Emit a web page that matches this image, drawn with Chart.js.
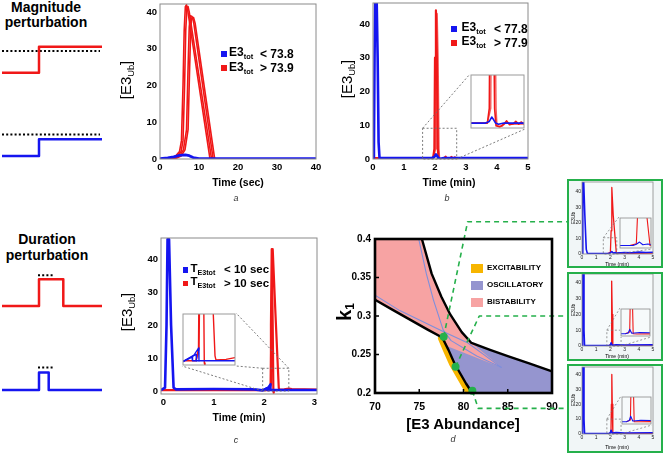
<!DOCTYPE html>
<html><head><meta charset="utf-8">
<script src="https://cdn.jsdelivr.net/npm/chart.js@4"></script>
<style>
body{margin:0;width:664px;height:453px;position:relative;background:#fff;overflow:hidden;font-family:"Liberation Sans",Arial,sans-serif;}
canvas{position:absolute;}
.t{position:absolute;white-space:nowrap;color:#000;line-height:1;z-index:10;}
.c{transform:translate(-50%,-50%);}
.r{transform:translate(-50%,-50%) rotate(-90deg);}
.lv{transform:translateY(-50%);}
.sub{font-size:0.62em;vertical-align:-0.35em;}
.sw{position:absolute;z-index:10;}
</style></head><body>
<script>
const F='"Liberation Sans", Arial, sans-serif';
Chart.defaults.font.family=F;

// ---------------- DATA ----------------
// schematic inputs (time units 0..10, level 0..1)
const magRedStep=[[0,0.18],[3.7,0.18],[3.7,0.83],[10,0.83]];
const magRedThr=[[0,0.725],[9.8,0.725]];
const magBlueStep=[[0,0.2],[3.7,0.2],[3.7,0.62],[10,0.62]];
const magBlueThr=[[0,0.74],[9.8,0.74]];
const durRedPulse=[[0,0.1],[3.7,0.1],[3.7,0.77],[6.13,0.77],[6.13,0.1],[10,0.1]];
const durRedDots=[[3.6,0.87],[5.2,0.87]];
const durBluePulse=[[0,0.15],[3.7,0.15],[3.7,0.59],[4.67,0.59],[4.67,0.15],[10,0.15]];
const durBlueDots=[[3.6,0.71],[5.2,0.71]];

// panel a (time in sec)
const aTicksX=[0,10,20,30,40], aTicksY=[0,10,20,30,40];
const aBlue=[[0,0.1],[2,0.3],[3.5,0.6],[5,1.0],[6.5,1.1],[7.5,0.9],[8.5,0.4],[10,0.1],[40,0.1]];
const aRed1=[[0,0],[3,0.3],[4,0.8],[5,2],[5.5,5],[5.9,20],[6.2,35],[6.5,41.5],[6.8,42],[7.1,40.5],[12.8,0.2],[13.1,0],[40,0]];
const aRed2=[[0,0],[3.4,0.3],[4.4,0.8],[5.4,2],[5.9,5],[6.3,20],[6.6,35],[6.9,41.2],[7.2,41.5],[7.5,40],[13.2,0.2],[13.5,0],[40,0]];
const aRed3=[[0,0],[4,0.3],[5,0.8],[6,2.5],[6.8,8],[7.2,25],[7.5,36],[7.8,39],[8.2,38.8],[8.6,37.5],[13.6,0.2],[13.9,0],[40,0]];
const aRed4=[[0,0],[4.4,0.3],[5.4,0.8],[6.4,2.5],[7.2,8],[7.6,25],[7.9,36],[8.2,38.6],[8.6,38.5],[9.0,37],[14.0,0.2],[14.3,0],[40,0]];

// panel b (time in min)
const bTicksX=[0,1,2,3,4,5], bTicksY=[0,10,20,30,40];
const bBlue=[[0,0.3],[0.03,3],[0.05,30],[0.07,46],[0.12,46],[0.15,30],[0.18,5],[0.21,0.3],[1.9,0.3],[1.98,0.6],[2.03,1.4],[2.07,0.9],[2.11,0.3],[2.17,0.1],[2.28,0.3],[5,0.3]];
const bRed1=[[0,0.3],[1.94,0.3],[1.98,3],[2.0,30],[2.03,44],[2.06,30],[2.09,3],[2.12,-0.2],[2.2,-0.4],[2.28,0.1],[2.34,0.7],[2.4,0.0],[2.48,0.2],[2.53,0.6],[2.59,0.1],[2.64,0.5],[2.69,0.2],[5,0.3]];
const bRed2=[[1.94,0.3],[2.01,3],[2.03,30],[2.06,43],[2.09,30],[2.12,3],[2.14,-0.2],[2.24,-0.3],[2.33,0.4],[2.43,0.1],[5,0.3]];

// panel c (time in min)
const cTicksX=[0,1,2,3], cTicksY=[0,10,20,30,40];
const cBlue1=[[-0.05,0.3],[0.03,1],[0.06,20],[0.08,46],[0.11,46],[0.15,20],[0.2,1],[0.25,0.5],[1.0,0.6],[1.8,0.5],[1.97,0.2],[2.03,0.6],[2.06,0.84],[2.065,0.3],[2.3,0.3],[3.05,0.3]];
const cBlue2=[[1.97,0.2],[2.05,0.8],[2.1,1.2],[2.105,0.3]];
const cBlue3=[[1.97,0.2],[2.08,1.1],[2.125,2.1],[2.13,0.3]];
const cRed1=[[-0.05,0.3],[2.1,0.3],[2.125,2],[2.135,20],[2.15,43],[2.17,20],[2.183,0],[2.19,-0.5]];
const cRed2=[[2.1,0.3],[2.13,2],[2.145,20],[2.17,43],[2.22,25],[2.29,1],[2.3,0.4],[2.4,0.5],[2.49,0.75],[2.55,0.6],[3.05,0.4]];

// panel d (E3 abundance vs k1)
const dTicksX=[70,75,80,85,90], dTicksY=[0.2,0.25,0.3,0.35,0.4];
const dYLabels=['0.2','0.25','0.3','0.35','0.4'];
const dBistable=[[70,0.4],[75.3,0.4],[76.4,0.355],[77.5,0.325],[78.5,0.302],[79.8,0.279],[80.9,0.265],[84.3,0.233],[78.1,0.261],[77.6,0.271],[70,0.321]];
const dOscill=[[77.6,0.272],[80.9,0.265],[83,0.256],[85,0.248],[87.5,0.238],[90,0.228],[90,0.2],[81.0,0.2],[80.3,0.212],[79.6,0.226],[79.0,0.238],[78.3,0.256],[77.6,0.272]];
const dUpper=[[75.3,0.4],[76.4,0.355],[77.5,0.325],[78.5,0.302],[79.8,0.279],[80.9,0.265],[83,0.256],[85,0.248],[87.5,0.238],[90,0.228]];
const dLower=[[70,0.321],[72,0.308],[74,0.295],[76,0.282],[77.6,0.272],[78.3,0.256],[79.0,0.238],[79.6,0.226],[80.3,0.212],[81.0,0.2]];
const dExcite=[[77.45,0.271],[78.0,0.256],[78.7,0.238],[79.3,0.226],[80.0,0.212],[80.6,0.2]];
const dBlueA=[[74.94,0.4],[75.8,0.355],[76.6,0.321],[77.7,0.282],[78.6,0.268],[81.5,0.248],[84.3,0.233]];
const dBlueB=[[70,0.327],[72.8,0.307],[77.7,0.28],[80.5,0.265],[84.3,0.233]];
const dPoints=[[77.76,0.273],[79.1,0.234],[81.0,0.203]];
const dLink1=[[77.76,0.273],[80.47,0.4225],[91.7,0.4225]];
const dLink2=[[79.1,0.234],[81.78,0.3],[91.7,0.3]];
const dLink3=[[81.0,0.203],[81.67,0.18],[91.7,0.18]];

// inset boxes on the right (time in min)
const mTicksX=[0,1,2,3,4,5], mTicksY=[0,10,20,30,40];
const m1Blue=[[0,0.3],[0.04,8],[0.07,46.5],[0.12,46.5],[0.2,25],[0.3,3],[0.38,0.3],[1.9,0.3],[2.0,0.8],[2.1,1.6],[2.2,0.6],[2.35,0.9],[2.5,0.6],[3.0,1.0],[3.5,0.8],[4.0,1.2],[4.5,1.0],[5,1.1]];
const m1Red=[[1.8,0.3],[2.0,1],[2.05,15],[2.1,43],[2.2,25],[2.42,0.3],[2.6,0.7],[3.3,0.4],[5,0.6]];
const m2Blue=[[0,0.3],[0.03,10],[0.05,45.5],[0.1,45.5],[0.14,10],[0.18,0.3],[1.9,0.3],[2.0,0.6],[2.05,2],[2.12,0.5],[2.4,0.8],[3,0.6],[5,0.7]];
const m2Red=[[1.9,0.3],[2.05,1],[2.08,20],[2.1,41],[2.13,20],[2.17,0.3],[2.3,0.2],[5,0.4]];
const m3Blue=[[0,0.3],[0.03,10],[0.05,45],[0.1,45],[0.14,10],[0.18,0.3],[1.9,0.3],[2.0,0.8],[2.05,2.5],[2.12,0.6],[2.4,0.9],[3,0.7],[5,0.8]];
const m3Red=[[1.9,0.3],[2.04,1],[2.07,20],[2.1,40],[2.13,20],[2.17,0.3],[2.4,0.3],[5,0.4]];

// ---------------- colours ----------------
const BLUE='#1515f0', RED='#f01818', GRN='#25b04b';

// ---------------- plugins ----------------
Chart.register({id:'boxbg',
  beforeDraw(ch,a,o){const ctx=ch.ctx;ctx.save();
    if(o.bg){ctx.fillStyle=o.bg;ctx.fillRect(0,0,ch.width,ch.height);}
    if(o.plotBg){const A=ch.chartArea;ctx.fillStyle=o.plotBg;ctx.fillRect(A.left,A.top,A.right-A.left,A.bottom-A.top);}
    ctx.restore();},
  afterDraw(ch,a,o){if(!o.border)return;const ctx=ch.ctx,w=o.bw||2;ctx.save();ctx.strokeStyle=o.border;ctx.lineWidth=w;
    ctx.strokeRect(w/2,w/2,ch.width-w,ch.height-w);ctx.restore();}
});
Chart.register({id:'frame',
  afterDatasetsDraw(ch,a,o){if(!o.color)return;const A=ch.chartArea,ctx=ch.ctx;ctx.save();
    ctx.strokeStyle=o.color;ctx.lineWidth=o.width||1;
    if(o.ticks){ctx.beginPath();
      ch.scales.x.ticks.forEach(t=>{const p=ch.scales.x.getPixelForValue(t.value);ctx.moveTo(p,A.bottom);ctx.lineTo(p,A.bottom-o.ticks);});
      ch.scales.y.ticks.forEach(t=>{const p=ch.scales.y.getPixelForValue(t.value);ctx.moveTo(A.left,p);ctx.lineTo(A.left+o.ticks,p);});
      ctx.lineWidth=1.5;ctx.stroke();ctx.lineWidth=o.width||1;}
    ctx.strokeRect(A.left,A.top,A.right-A.left,A.bottom-A.top);ctx.restore();}
});
Chart.register({id:'zoomlink',
  afterDatasetsDraw(ch,a,o){if(!o.win)return;const xs=ch.scales.x,ys=ch.scales.y,ctx=ch.ctx;
    const x0=xs.getPixelForValue(o.win[0]),x1=xs.getPixelForValue(o.win[1]),yb=ys.getPixelForValue(o.win[2]),yt=ys.getPixelForValue(o.win[3]);
    const cl=parseFloat(ch.canvas.style.left),ct=parseFloat(ch.canvas.style.top);
    const b=o.box, R={TL:[x0,yt],TR:[x1,yt],BL:[x0,yb],BR:[x1,yb]},
      B={TL:[b[0]-cl,b[1]-ct],TR:[b[2]-cl,b[1]-ct],BL:[b[0]-cl,b[3]-ct],BR:[b[2]-cl,b[3]-ct]};
    ctx.save();ctx.strokeStyle=o.color||'#6e6e6e';ctx.lineWidth=o.width||0.9;ctx.setLineDash(o.dash||[2,2]);
    ctx.strokeRect(x0,yt,x1-x0,yb-yt);
    ctx.beginPath();o.links.forEach(([r,q])=>{ctx.moveTo(R[r][0],R[r][1]);ctx.lineTo(B[q][0],B[q][1]);});ctx.stroke();ctx.restore();}
});

// ---------------- helpers ----------------
const P=a=>a.map(p=>({x:p[0],y:p[1]}));
function ds(arr,color,w,extra){return Object.assign({data:P(arr),borderColor:color,backgroundColor:color,borderWidth:w,pointRadius:0,tension:0,fill:false,borderJoinStyle:'round'},extra||{});}
function axis(o){return {type:'linear',display:o.display!==false,min:o.min,max:o.max,
  grid:{display:false,drawTicks:false},border:{display:false},
  ticks:{color:o.tc||'#000',font:{size:o.size||9.5,weight:o.weight||'bold'},padding:o.pad==null?3:o.pad,maxRotation:0,autoSkip:false,
    callback:(v,i)=>o.labels?o.labels[i]:String(v)},
  afterBuildTicks:s=>{if(o.ticks)s.ticks=o.ticks.map(v=>({value:v}));},
  afterFit:s=>{if(o.fit!=null){if(s.isHorizontal())s.height=o.fit;else s.width=o.fit;}
    s.paddingLeft=s.paddingRight=s.paddingTop=s.paddingBottom=0;}};}
function chart(l,t,w,h,cfg){const c=document.createElement('canvas');c.width=w;c.height=h;
  Object.assign(c.style,{left:l+'px',top:t+'px',width:w+'px',height:h+'px'});document.body.appendChild(c);
  return new Chart(c,{type:'line',data:{datasets:cfg.datasets},options:{responsive:false,animation:false,events:[],
    layout:{padding:cfg.pad||0},scales:{x:axis(cfg.x),y:axis(cfg.y)},
    plugins:{legend:{display:false},tooltip:{enabled:false},frame:cfg.frame||{},zoomlink:cfg.zoom||{},boxbg:cfg.box||{}}}});}
function txt(html,x,y,cls,style){const d=document.createElement('div');d.className='t '+cls;d.innerHTML=html;
  d.style.left=x+'px';d.style.top=y+'px';Object.assign(d.style,style||{});document.body.appendChild(d);return d;}
function sw(x,y,w,h,color){const d=document.createElement('div');d.className='sw';
  Object.assign(d.style,{left:x+'px',top:y+'px',width:w+'px',height:h+'px',background:color});document.body.appendChild(d);}

// ---------------- schematics ----------------
const dotted={borderDash:[2,2.2]};
const schem=(top,sets)=>chart(0,top,106,48,{pad:{left:2,right:4,top:4,bottom:4},
  x:{display:false,min:0,max:10},y:{display:false,min:0,max:1},datasets:sets});
schem(36,[ds(magRedStep,RED,2.5),ds(magRedThr,'#000',2,dotted)]);
schem(120,[ds(magBlueStep,BLUE,2.5),ds(magBlueThr,'#000',2,dotted)]);
schem(266,[ds(durRedPulse,RED,2.5),ds(durRedDots,'#000',2,dotted)]);
schem(352,[ds(durBluePulse,BLUE,2.5),ds(durBlueDots,'#000',2,dotted)]);

// ---------------- panel a ----------------
chart(130,0,195,176,{pad:{left:0,right:9,top:4,bottom:0},
  x:{min:0,max:40,ticks:aTicksX,fit:17},y:{min:0,max:42.2,ticks:aTicksY,fit:30},
  frame:{color:'#8a8a8a',width:1},
  datasets:[ds(aBlue,BLUE,2.8),ds(aRed1,RED,1.6),ds(aRed2,RED,1.6),ds(aRed3,RED,1.6),ds(aRed4,RED,1.6)]});

// ---------------- panel b ----------------
const bWin=[1.6,2.7,0,9.1], bBox=[470,74,525,129];
chart(345,0,190,176,{pad:{left:0,right:7,top:3,bottom:0},
  x:{min:0,max:5,ticks:bTicksX,fit:17},y:{min:0,max:46.2,ticks:bTicksY,fit:28},
  frame:{color:'#8a8a8a',width:1},zoom:{win:bWin,box:bBox,links:[['TL','TL'],['BR','BR']]},
  datasets:[ds(bBlue,BLUE,2.6),ds(bRed1,RED,2.2),ds(bRed2,'rgba(240,40,40,0.75)',2)]});
chart(bBox[0],bBox[1],bBox[2]-bBox[0],bBox[3]-bBox[1],{pad:1,
  x:{display:false,min:bWin[0],max:bWin[1]},y:{display:false,min:-0.6,max:bWin[3]},
  frame:{color:'#9a9a9a',width:1},box:{bg:'#fff'},
  datasets:[ds(bBlue,BLUE,1.6),ds(bRed1,RED,1.6),ds(bRed2,'rgba(240,40,40,0.75)',1.4)]});

// ---------------- panel c ----------------
const cWin=[1.97,2.49,0,6.9], cBox=[182,313,236,366];
chart(130,225,195,190,{pad:{left:0,right:8,top:13,bottom:0},
  x:{min:-0.05,max:3.05,ticks:cTicksX,fit:21},y:{min:-0.9,max:46.4,ticks:cTicksY,fit:31},
  frame:{color:'#8a8a8a',width:1},zoom:{win:cWin,box:cBox,links:[['TR','TR'],['TL','BR'],['BL','BL']]},
  datasets:[ds(cBlue1,BLUE,2.6),ds(cBlue2,BLUE,2),ds(cBlue3,BLUE,2),ds(cRed1,RED,2.2),ds(cRed2,RED,2.2)]});
chart(cBox[0],cBox[1],cBox[2]-cBox[0],cBox[3]-cBox[1],{pad:1,
  x:{display:false,min:cWin[0],max:cWin[1]},y:{display:false,min:cWin[2]-0.3,max:cWin[3]},
  frame:{color:'#9a9a9a',width:1},box:{bg:'#fff'},
  datasets:[ds(cBlue1,BLUE,1.5),ds(cBlue2,BLUE,1.3),ds(cBlue3,BLUE,1.3),ds(cRed1,RED,1.4),ds(cRed2,RED,1.4)]});

// ---------------- panel d ----------------
const link={borderDash:[5,4],clip:false};
chart(330,170,240,260,{pad:{left:0,right:18,top:69,bottom:0},
  x:{min:70,max:90,ticks:dTicksX,fit:37,size:10.5,pad:8},y:{min:0.2,max:0.4,ticks:dTicksY,labels:dYLabels,fit:45,size:10,pad:4},
  frame:{color:'#000',width:2.6,ticks:4},
  datasets:[
    ds(dLink1,GRN,1.6,link),ds(dLink2,GRN,1.6,link),ds(dLink3,GRN,1.6,link),
    ds(dPoints,GRN,0,{showLine:false,pointRadius:4,pointBackgroundColor:GRN,pointBorderWidth:0,clip:false}),
    ds(dUpper,'#000',2.4,{clip:false}),ds(dLower,'#000',2.4,{clip:false}),
    ds(dExcite,'#f7b500',6,{borderCapStyle:'round'}),
    ds(dBlueA,'#7d8fdc',1.1),ds(dBlueB,'#7d8fdc',1.1),
    ds(dBistable,'#f7a3a3',0,{fill:'shape',backgroundColor:'#f7a3a3'}),
    ds(dOscill,'#9595cf',0,{fill:'shape',backgroundColor:'#9595cf'})
  ]});

// ---------------- right-hand inset boxes ----------------
function mini(top,h,plotTop,plotBottom,ymax,blue,red,win,ibox,labY,labT){
  chart(567,top,96,h,{pad:{left:0,right:10,top:plotTop-top,bottom:0},
    x:{min:0,max:5,ticks:mTicksX,fit:top+h-plotBottom,size:5,weight:'normal',pad:1,tc:'#222'},
    y:{min:0,max:ymax,ticks:mTicksY,fit:15,size:5,weight:'normal',pad:1,tc:'#222'},
    frame:{color:'#8a8a8a',width:0.8},box:{bg:'#f1f6f7',plotBg:'#f6fafb',border:GRN,bw:2},
    zoom:{win:win,box:ibox,links:[['TL','TL'],['BR','BR']],width:0.7},
    datasets:[ds(blue,BLUE,1.6),ds(red,RED,1.3)]});
  chart(ibox[0],ibox[1],ibox[2]-ibox[0],ibox[3]-ibox[1],{pad:1,
    x:{display:false,min:win[0],max:win[1]},y:{display:false,min:-0.6,max:win[3]},
    frame:{color:'#8a8a8a',width:0.8},box:{bg:'#f6fafb'},
    datasets:[ds(blue,BLUE,1.1),ds(red,RED,1.1)]});
  txt('E3Ub',572.5,labY,'r',{fontSize:'5px'});
  txt('Time (min)',617,labT,'c',{fontSize:'5px'});
}
mini(179,89,182,254,46.5,m1Blue,m1Red,[1.5,2.45,0,10.5],[619,217,652,249],218,263.5);
mini(272,89,274,346,45.5,m2Blue,m2Red,[1.75,2.75,0,10],[620,308,651,337],310,355.5);
mini(364,89,367,434,45,m3Blue,m3Red,[1.75,2.75,0,10],[621,396,652,425],400,446.5);

// ---------------- texts ----------------
const B14={fontSize:'14px',fontWeight:'bold'};
txt('Magnitude',46,7,'c',B14);txt('perturbation',46,22,'c',B14);
txt('Duration',47,239,'c',B14);txt('perturbation',47,255,'c',B14);
const YL={fontSize:'15px'};
const e3ub='[E3<span class="sub">Ub</span>]';
txt(e3ub,127,80,'r',YL);txt(e3ub,348,79,'r',YL);txt(e3ub,128,312,'r',YL);
const TT={fontSize:'10.5px',fontWeight:'bold'};
txt('Time (sec)',238,182,'c',TT);txt('Time (min)',449,182,'c',TT);txt('Time (min)',239,417,'c',TT);
const LT={fontSize:'9px',fontStyle:'italic',color:'#333'};
txt('a',236,198,'c',LT);txt('b',447,198,'c',LT);txt('c',236,440,'c',LT);txt('d',453,439,'c',LT);
// legend a
const LG={fontSize:'12px',fontWeight:'bold'};
sw(221,50.5,6,6,BLUE);sw(221,65,6,6,RED);
txt('E3<span class="sub">tot</span>',229,53,'lv',LG);txt('&lt; 73.8',260,53.5,'lv',LG);
txt('E3<span class="sub">tot</span>',229,67.5,'lv',LG);txt('&gt; 73.9',260,68,'lv',LG);
// legend b
sw(451,25.5,6,6,BLUE);sw(451,39.5,6,6,RED);
txt('E3<span class="sub">tot</span>',461.5,28,'lv',LG);txt('&lt; 77.8',494,28.5,'lv',LG);
txt('E3<span class="sub">tot</span>',461.5,42,'lv',LG);txt('&gt; 77.9',494,42.5,'lv',LG);
// legend c
const LG2={fontSize:'11.5px',fontWeight:'bold'};
sw(182.5,267,5.5,5.5,BLUE);sw(182.5,280.5,5.5,5.5,RED);
txt('T<span class="sub">E3tot</span>',190.5,269.5,'lv',LG2);txt('&lt; 10 sec',224,270,'lv',LG2);
txt('T<span class="sub">E3tot</span>',190.5,283,'lv',LG2);txt('&gt; 10 sec',224,283.5,'lv',LG2);
// panel d texts
txt('k<span style="font-size:0.6em;vertical-align:-0.3em">1</span>',345,312,'r',{fontSize:'20px',fontWeight:'bold'});
txt('[E3 Abundance]',463,423,'c',{fontSize:'15px',fontWeight:'bold'});
sw(471,263.5,12,9,'#f7b500');sw(471,280.5,12,9,'#9595cf');sw(471,297.5,12,9,'#f7a3a3');
const DL={fontSize:'8px',fontWeight:'bold'};
txt('EXCITABILITY',487,268,'lv',DL);txt('OSCILLATORY',487,285,'lv',DL);txt('BISTABILITY',487,302,'lv',DL);
</script>
</body></html>
